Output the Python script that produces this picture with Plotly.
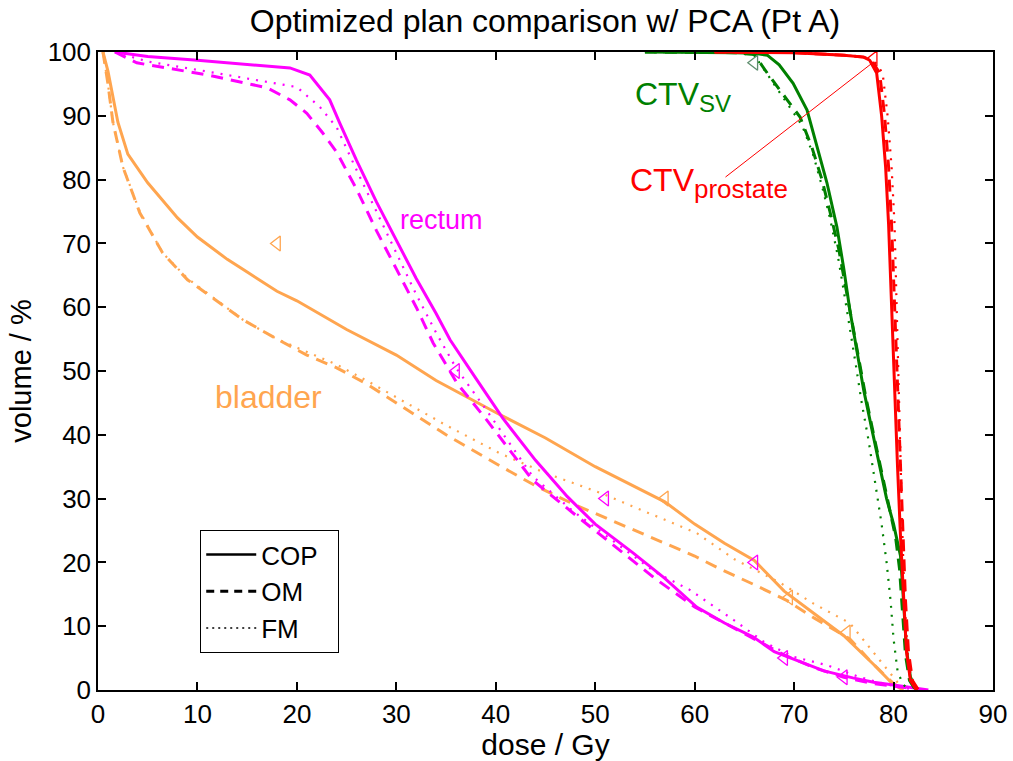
import plotly.graph_objects as go

# ---------------- data ----------------
bladder_cop_x = [0.5, 1, 2, 3, 5, 8, 10, 13, 15, 18, 20, 25, 30, 34, 40, 45, 50, 54, 57, 60, 63, 66, 69, 72, 75, 78, 80, 81]
bladder_cop_y = [100, 97, 89, 84, 79.5, 74, 71, 67.5, 65.5, 62.5, 61, 56.5, 52.5, 48.5, 43.5, 39.5, 35, 31.8, 29.5, 26, 23, 20.3, 15.5, 12, 8.5, 4, 0.8, 0]
bladder_om_x = [0.5, 1, 1.5, 2.5, 4.2, 6.5, 9, 12, 14.6, 18, 21, 24, 27, 31, 35, 40, 44, 48, 54, 60, 62.5, 66, 69.3, 72, 75.6, 78, 80, 81]
bladder_om_y = [100, 95, 89, 82, 74.8, 68.5, 64.3, 61, 58, 55, 52.5, 50.5, 48, 44, 40, 35.5, 32, 29, 25, 21, 19, 16.5, 14, 11.3, 8, 4, 1, 0]
bladder_fm_x = [0.5, 1, 1.5, 2.5, 4.2, 6.5, 9, 12, 14.6, 18, 21, 24, 27, 30.4, 35, 40.4, 45, 50.5, 55, 60.2, 64, 68.6, 72, 75.6, 78.6, 80.5, 81.5]
bladder_fm_y = [100, 95, 89, 82, 75, 68.5, 64.5, 61, 58, 55, 53, 51, 48.5, 45.5, 41.5, 37.1, 34, 30.9, 28, 24.6, 20.5, 16.8, 13.5, 10.5, 4.7, 1, 0]

rectum_cop_x = [1.7, 5, 10, 15, 19.3, 21.3, 23.3, 24.3, 26, 28, 30, 32, 34, 35.4, 38.1, 40.7, 44, 47.2, 50, 53.8, 57, 60.2, 63, 65.9, 68, 70.9, 73, 75.9, 78, 80, 82, 83.5]
rectum_cop_y = [100, 99.3, 98.7, 98, 97.5, 96.4, 92.5, 88.9, 83, 76.5, 70.5, 64.5, 59, 54.9, 48.6, 42.6, 36, 30.3, 26, 21.5, 17.5, 13, 10.5, 8.3, 6, 4.2, 3, 1.9, 1.2, 0.8, 0.3, 0]
rectum_om_x = [1.7, 3.9, 6.9, 11, 14.3, 17, 19.3, 21, 22.6, 24, 26, 28, 30, 32, 33.7, 36.1, 39.1, 43.7, 47.8, 52.5, 56, 60, 63, 66, 69, 72, 75, 78, 80, 82, 83]
rectum_om_y = [100, 98.3, 97.5, 96.4, 95.3, 94.4, 92.5, 90.4, 87.3, 84.3, 78.5, 72, 66, 60, 54.4, 48.1, 42.3, 32.9, 27.7, 21.9, 17.5, 13, 10.5, 8, 5.5, 3.5, 2, 1, 0.6, 0.2, 0]
rectum_fm_x = [1.7, 5, 10, 16, 20, 22.3, 24, 26, 28, 30, 32, 34, 36, 39, 43.7, 47.8, 52.5, 56, 59.5, 63.9, 67, 69.9, 73.3, 76.6, 79, 81, 83]
rectum_fm_y = [100, 98.5, 97.2, 95.6, 94.5, 91.4, 88.2, 81.5, 75, 68.5, 62, 56, 50.5, 44, 33.5, 28, 22.5, 18.5, 15.7, 11, 7.5, 5.2, 3.9, 2, 1, 0.3, 0]

sv_cop_x = [55, 60, 64, 66, 67.3, 68.5, 69.9, 71.3, 72.3, 73.3, 74.3, 75, 75.6, 76.3, 77, 77.8, 78.6, 79.3, 80, 80.7, 81, 81.3, 81.7, 82.3]
sv_cop_y = [100, 100, 99.9, 99.8, 99.5, 98, 95.1, 90.9, 85.1, 79.5, 72.6, 66, 59.6, 53, 47, 41, 35, 30, 26, 21, 14, 6.3, 2, 0]
sv_om_x = [55, 60, 64, 66, 67.3, 69.3, 70.6, 71.8, 72.8, 73.6, 74.5, 75.2, 75.8, 76.5, 77.2, 78, 78.8, 79.5, 80.2, 80.6, 80.9, 81.2, 81.6, 82.2]
sv_om_y = [100, 100, 99.9, 99.6, 96.7, 92.5, 89.8, 85, 80, 75, 69, 63, 58, 52, 46, 40, 34, 29, 24, 19, 12, 5.5, 1.5, 0]
sv_fm_x = [55, 60, 64, 66, 67.5, 69.5, 70.8, 71.9, 72.8, 73.6, 74.4, 75, 75.6, 76.2, 76.8, 77.5, 78.2, 78.8, 79.3, 79.7, 80, 80.4, 80.9, 81.5]
sv_fm_y = [100, 100, 99.9, 99.5, 96, 91.5, 88.5, 84, 79, 74, 68, 62.5, 57, 51, 45, 39, 32, 26, 20, 14, 8, 3, 1, 0]

pr_cop_x = [62, 70, 75, 77, 77.6, 78.3, 78.8, 79.2, 79.5, 79.8, 80.1, 80.4, 80.7, 81, 81.3, 81.7, 82.3]
pr_cop_y = [100, 99.9, 99.5, 99.2, 98.7, 96.7, 90, 82, 73, 60, 46, 35, 24, 14, 6, 1.5, 0]
pr_om_x = [62, 70, 75, 77, 77.8, 78.6, 79.1, 79.5, 79.8, 80.1, 80.4, 80.7, 80.9, 81.2, 81.5, 81.9, 82.5]
pr_om_y = [100, 99.9, 99.5, 99.2, 98.7, 96.7, 90, 82, 73, 60, 46, 35, 24, 14, 6, 1.5, 0]
pr_fm_x = [62, 70, 75, 77, 78, 78.9, 79.4, 79.8, 80.1, 80.3, 80.5, 80.7, 80.9, 81.1, 81.4, 81.8, 82.4]
pr_fm_y = [100, 99.9, 99.5, 99.2, 98.7, 96.7, 90, 82, 73, 60, 46, 35, 24, 14, 6, 1.5, 0]

bladder_con_x = [18, 57, 69.5, 75.3]
bladder_con_y = [70, 30, 14.5, 9]
rectum_con_x = [36, 51, 66, 69, 75]
rectum_con_y = [50, 30, 20, 5, 2]
sv_con_x = [66]
sv_con_y = [98.3]
pr_con_x = [78]
pr_con_y = [99]

prostate_pointer_x = [63.1, 77.8]
prostate_pointer_y = [80.4, 98.2]

title_text = "Optimized plan comparison w/ PCA (Pt A)"
x_label = "dose / Gy"
y_label = "volume / %"
legend_names = ["COP", "OM", "FM"]

# ---------------- style ----------------
ORANGE = "#FFA54F"
MAGENTA = "#FF00FF"
GREEN = "#008000"
RED = "#FF0000"
FONT = "Liberation Sans"
DASH = "12px,8px"
DOT = "2px,7px"

fig = go.Figure()

def add_curve(x, y, color, dash, width):
    fig.add_trace(go.Scatter(x=x, y=y, mode="lines", showlegend=False,
                             line=dict(color=color, dash=dash, width=width),
                             hoverinfo="skip"))

for color, (cx, cy), (ox, oy), (fx, fy) in [
    (ORANGE, (bladder_cop_x, bladder_cop_y), (bladder_om_x, bladder_om_y), (bladder_fm_x, bladder_fm_y)),
    (MAGENTA, (rectum_cop_x, rectum_cop_y), (rectum_om_x, rectum_om_y), (rectum_fm_x, rectum_fm_y)),
    (GREEN, (sv_cop_x, sv_cop_y), (sv_om_x, sv_om_y), (sv_fm_x, sv_fm_y)),
    (RED, (pr_cop_x, pr_cop_y), (pr_om_x, pr_om_y), (pr_fm_x, pr_fm_y)),
]:
    add_curve(fx, fy, color, DOT, 2.2)
    add_curve(ox, oy, color, DASH, 3)
    add_curve(cx, cy, color, "solid", 3)

def add_markers(x, y, color):
    fig.add_trace(go.Scatter(x=x, y=y, mode="markers", showlegend=False,
                             marker=dict(symbol="triangle-left-open", size=13,
                                         color=color, line=dict(width=1.3, color=color)),
                             hoverinfo="skip"))

add_markers(bladder_con_x, bladder_con_y, ORANGE)
add_markers(rectum_con_x, rectum_con_y, MAGENTA)
add_markers(sv_con_x, sv_con_y, "#5F8F6F")
add_markers(pr_con_x, pr_con_y, RED)

# pointer line for prostate label
fig.add_trace(go.Scatter(x=prostate_pointer_x, y=prostate_pointer_y, mode="lines",
                         showlegend=False, line=dict(color=RED, width=1), hoverinfo="skip"))

# legend dummies
for name, dash, w in zip(legend_names, ["solid", "8px,6px", "2px,4px"], [2.5, 3, 1.5]):
    fig.add_trace(go.Scatter(x=[None], y=[None], mode="lines",
                             name=name + "&nbsp;&nbsp;",
                             line=dict(color="black", dash=dash, width=w)))

annotations = [
    dict(x=53.8, y=93, text="CTV<sub><span style='font-size:24px'>SV</span></sub>", color=GREEN, size=32),
    dict(x=53.3, y=79.5, text="CTV<sub><span style='font-size:26px'>prostate</span></sub>", color=RED, size=32),
    dict(x=30.2, y=73.7, text="rectum", color=MAGENTA, size=27),
    dict(x=11.6, y=45.9, text="bladder", color=ORANGE, size=32),
]
for a in annotations:
    fig.add_annotation(x=a["x"], y=a["y"], text=a["text"], showarrow=False,
                       xanchor="left", yanchor="middle",
                       font=dict(family=FONT, size=a["size"], color=a["color"]))

axis_common = dict(showline=True, linecolor="black", linewidth=1.5, mirror="ticks",
                   ticks="inside", ticklen=8, tickwidth=1.5, tickcolor="black",
                   showgrid=False, zeroline=False, automargin=False,
                   tickfont=dict(family=FONT, size=26, color="black"))

fig.update_layout(
    width=1013, height=761,
    margin=dict(l=98, r=20, t=52, b=71, autoexpand=False),
    paper_bgcolor="white", plot_bgcolor="white",
    title=dict(text=title_text, x=0.538, xanchor="center", y=0.973, yanchor="middle",
               font=dict(family=FONT, size=32, color="black"), automargin=False),
    xaxis=dict(range=[0, 90], dtick=10, title=dict(text=x_label, standoff=6,
               font=dict(family=FONT, size=30, color="black")), **axis_common),
    yaxis=dict(range=[0, 100], dtick=10, title=dict(text=y_label, standoff=8,
               font=dict(family=FONT, size=29, color="black")), **axis_common),
    legend=dict(x=0.114, y=0.251, xanchor="left", yanchor="top",
                bgcolor="white", bordercolor="black", borderwidth=1.2,
                font=dict(family=FONT, size=26, color="black"),
                tracegroupgap=0, itemwidth=50),
)

fig.write_html("out.html",
               config={"displayModeBar": False},
               post_script="document.body.style.margin='0';document.body.style.overflow='hidden';")
